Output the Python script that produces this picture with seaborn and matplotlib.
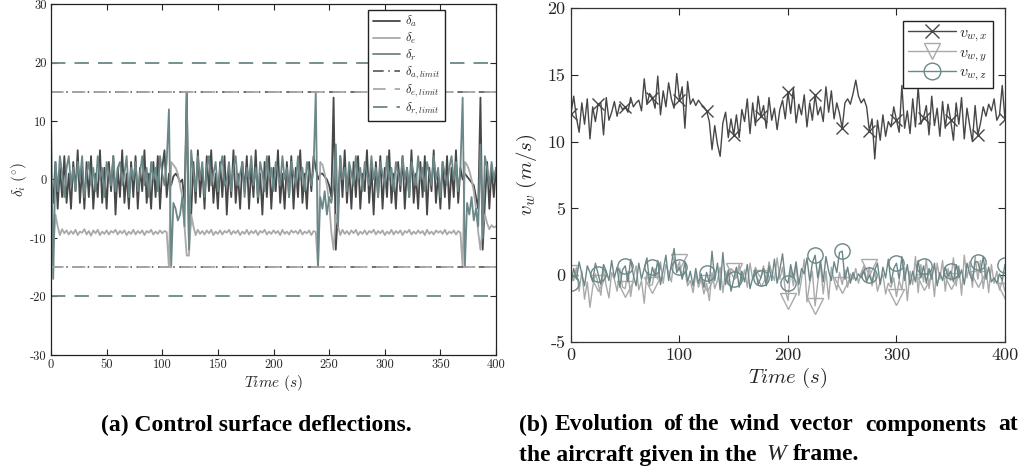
import numpy as np
import pandas as pd
import matplotlib
matplotlib.use("Agg")
import matplotlib.pyplot as plt
from matplotlib.lines import Line2D
import seaborn as sns

# ------------------------------------------------------------
# datos
# ------------------------------------------------------------
# (a) deflexiones, muestreo cada 2 s
t_defl = np.arange(0, 401, 2)

delta_a = [
    0, -4, 3, -5, 2, -3, 4, -4, 1, -5,
    3, -2, 5, -4, 2, -5, 3, -3, 4, -5,
    1, -3, 5, -4, 2, -5, 3, -2, 4, -6,
    2, -3, 5, -4, 1, -5, 3, -3, 4, -5,
    2, -2, 5, -4, 1, -5, 3, -3, 4, -5,
    2, 5, -3, 1, -1, 0.5, 1, 0.5, -0.5, 0,
    -4, 15, -11, -6, 3, -4, 5, -3, 2, -5,
    4, -2, 5, -4, 1, -5, 3, -3, 4, -6,
    2, -3, 5, -4, 1, -5, 3, -2, 4, -5,
    2, -3, 5, -4, 1, -6, 3, -3, 4, -5,
    2, -2, 5, -4, 1, -5, 3, -3, 4, -5,
    2, -3, 5, -4, 1, -5, 3, -2, 4, 2,
    0, 1, 1, 0.5, 0, -1, -3, 14, -12, -5,
    4, -3, 5, -4, 2, -5, 3, -3, 4, -5,
    1, -2, 5, -4, 2, -6, 3, -3, 4, -5,
    2, -3, 5, -4, 1, -5, 3, -2, 4, -5,
    2, -3, 5, -4, 1, -5, 3, -3, 4, -6,
    2, -2, 5, -4, 1, -5, 3, -3, 4, -5,
    2, -3, 5, -4, 2, 0, 1, 0.5, 0, -0.5,
    -1, -3, -5, 14, -12, -4, 3, -5, 2, -3,
    2,
]

delta_e = [
    -6, -12, -6, -8, -9.5, -8.5, -9.2, -8.7, -9.4, -8.8,
    -9.3, -8.6, -9.5, -8.9, -9.1, -8.5, -9.4, -8.8, -9.6, -8.7,
    -9.2, -8.6, -9.5, -8.9, -9.3, -8.7, -9.4, -8.8, -9.1, -8.6,
    -9.4, -8.8, -9.2, -8.7, -9.5, -8.9, -9.3, -8.6, -9.4, -8.8,
    -9.2, -8.7, -9.5, -8.8, -9.1, -8.6, -9.4, -8.9, -9.3, -8.7,
    -9.2, -8.8, -9.0, -15, 3, 2.5, 2, 1, -1, -3,
    -8, -13, -13, -6, -8, -9.5, -8.6, -9.3, -8.8, -9.4,
    -8.7, -9.2, -8.6, -9.5, -8.9, -9.3, -8.7, -9.4, -8.8, -9.1,
    -8.6, -9.4, -8.8, -9.2, -8.7, -9.5, -8.9, -9.3, -8.6, -9.4,
    -8.8, -9.2, -8.7, -9.5, -8.8, -9.1, -8.6, -9.4, -8.9, -9.3,
    -8.7, -9.2, -8.8, -9.5, -8.6, -9.3, -8.9, -9.4, -8.7, -9.1,
    -8.8, -9.3, -8.6, -9.4, -8.9, -9.2, -8.7, -9.5, -8.8, -9.0,
    -15, 3, 2.5, 1, -1, -4, -9, -12, -6, -8,
    -9.5, -8.6, -9.3, -8.8, -9.4, -8.7, -9.2, -8.6, -9.5, -8.9,
    -9.3, -8.7, -9.4, -8.8, -9.1, -8.6, -9.4, -8.8, -9.2, -8.7,
    -9.5, -8.9, -9.3, -8.6, -9.4, -8.8, -9.2, -8.7, -9.5, -8.8,
    -9.1, -8.6, -9.4, -8.9, -9.3, -8.7, -9.2, -8.8, -9.5, -8.6,
    -9.3, -8.9, -9.4, -8.7, -9.1, -8.8, -9.3, -8.6, -9.4, -8.9,
    -9.2, -8.7, -9.4, -8.8, -9.1, -15, 3, 2.5, 1.5, 0,
    -2, -5, -9, -12, -8, -6, -7.5, -8.5, -7.8, -8.2,
    -8,
]

delta_r = [
    11, -17, 3, -2, 4, 1, -3, 2, 4, -1,
    2, -2, 3, 0, 4, -3, 1, 3, -1, 2,
    -2, 4, 0, 2, -3, 3, 1, -1, 4, -2,
    2, 3, -1, 1, 4, -3, 2, 0, 3, -2,
    1, 4, -1, 2, -3, 3, 0, 2, -2, 4,
    1, -1, 3, 12, -15, -4, -5, -7, -6, -3,
    -8, 15, -12, 5, 1, -2, 4, 0, 3, -3,
    2, 4, -1, 1, 3, -2, 2, 4, -1, 0,
    3, -2, 2, 4, -1, 1, 3, -3, 2, 0,
    4, -1, 2, -3, 3, 1, -2, 4, 0, 2,
    -2, 3, 1, -1, 4, 0, 2, -3, 3, 1,
    -1, 4, 0, 2, -2, 3, 1, -1, 2, 15,
    -15, -3, -5, -2, -6, -3, -4, -1, 6, -8,
    4, 0, 2, -2, 3, 1, -1, 4, 0, 2,
    -2, 3, 1, -1, 4, 0, 2, -3, 3, 1,
    -1, 4, 0, 2, -2, 3, 1, -1, 4, 0,
    2, -3, 3, 1, -1, 4, 0, 2, -2, 3,
    1, -1, 4, 0, 2, -3, 3, 1, -1, 2,
    4, 0, 3, -2, 2, 14, -15, -4, -6, -3,
    -7, -5, -8, 6, -10, 4, 2, -1, 3, 0,
    2,
]

lim_a = 15
lim_e = 15
lim_r = 20

# (b) viento, muestreo cada 2.5 s
t_wind = np.arange(0, 401, 2.5)

vw_x = [
    12.1, 13.4, 11.8, 10.7, 12.9, 11.3, 13.2, 10.2, 12.6, 11.5,
    12.8, 12.9, 10.5, 13.3, 11.6, 12.2, 13.0, 11.9, 12.8, 12.4,
    12.6, 12.2, 13.3, 12.6, 12.9, 13.1, 12.3, 14.7, 12.8, 13.6,
    13.3, 12.5, 14.9, 12.0, 13.8, 12.6, 14.4, 13.2, 12.5, 15.1,
    13.1, 14.1, 11.0, 14.5, 12.8, 13.2, 12.7, 13.1, 12.8, 12.6,
    12.3, 11.5, 9.4, 11.2, 9.8, 8.9, 11.4, 12.2, 10.3, 11.7,
    10.5, 12.0, 10.3, 12.4, 11.5, 13.2, 10.6, 12.9, 11.2, 13.4,
    11.9, 12.7, 11.0, 13.3, 11.6, 12.5, 10.9, 12.4, 13.1, 11.7,
    13.7, 12.1, 14.0, 11.4, 12.8, 12.0, 13.5, 11.1, 12.9, 11.6,
    13.5, 12.0, 12.6, 11.5, 14.1, 12.2, 13.8, 11.7, 12.9, 12.1,
    11.0, 12.9, 13.2, 12.8, 13.6, 14.6, 13.4, 12.9, 13.2, 12.6,
    10.8, 11.7, 8.7, 11.6, 10.1, 12.0, 10.4, 11.5, 11.1, 12.6,
    11.6, 10.7, 14.2, 11.0, 12.3, 10.6, 13.2, 11.1, 14.1, 11.3,
    11.8, 12.7, 10.5, 13.4, 11.2, 12.5, 10.4, 13.0, 11.0, 12.8,
    11.6, 10.1, 12.9, 11.3, 13.3, 10.2, 12.5, 11.2, 10.0, 12.7,
    10.5, 11.4, 12.6, 11.9, 12.8, 12.3, 13.2, 11.6, 12.0, 14.2,
    11.7,
]

vw_y = [
    0.2, -0.4, 0.6, -1.2, 0.3, -1.8, -0.5, -2.4, -0.9, 0.1,
    -0.6, -1.5, 0.4, -0.8, -1.7, 0.2, -0.3, -1.2, 0.5, -0.9,
    -1.0, 0.3, -1.6, -0.2, 0.7, -1.1, -0.4, -2.1, 0.2, -0.8,
    -0.7, 0.5, -0.3, 1.0, -0.6, 0.8, 0.2, -0.5, 1.2, 0.4,
    1.0, -0.2, 0.3, -0.8, -0.4, -1.3, 0.1, -0.9, -0.3, -1.4,
    -0.6, -1.9, 0.2, -1.0, -0.4, 0.6, -1.3, 0.3, -0.7, 0.5,
    0.3, -0.2, 0.8, -0.5, 0.4, -0.9, 0.9, -0.3, 0.6, 0.1,
    -0.2, 0.7, -0.6, 1.0, 0.2, -0.4, 1.3, -0.3, 0.6, -1.1,
    -1.9, 0.4, -0.8, 0.9, -1.5, -0.3, 1.2, -2.0, -0.6, 0.3,
    -2.3, -0.5, 0.8, -1.4, 0.3, -1.8, 0.6, -0.4, -1.1, 0.2,
    -0.7, 0.4, -0.9, 0.1, -0.3, 0.5, -0.6, 0.2, 0.7, -0.4,
    0.6, -0.8, 0.3, -1.2, -0.5, 0.1, -1.4, -0.6, -0.9, -0.2,
    -1.6, -0.4, -1.1, 0.6, -1.9, 0.3, -0.7, 1.4, -1.3, 0.8,
    -0.5, 1.2, -1.0, 0.4, -1.6, 0.9, -0.3, 1.1, -1.2, 0.5,
    -0.4, 1.3, -0.8, 0.7, -1.5, 1.5, -0.2, 1.0, -0.9, 1.4,
    -0.3, 1.1, -1.0, 0.6, -1.3, 0.8, -0.6, 0.3, -1.1, -0.4,
    -1.2,
]

vw_z = [
    -0.6, 0.5, -0.3, 1.0, 0.1, -0.8, 0.7, 0.2, -0.5, 0.9,
    0.1, -0.7, 0.8, 0.3, -0.4, 1.1, -0.2, 0.6, -0.9, 0.4,
    0.7, -0.5, 1.2, 0.0, -0.8, 0.9, -0.3, 0.5, 1.3, -0.6,
    0.6, -0.1, 1.1, -0.7, 0.4, 1.5, -0.4, 0.8, 2.0, 0.2,
    0.6, -0.3, 1.0, -0.5, 0.3, -0.8, 0.5, -0.6, 0.1, -0.9,
    0.2, -0.6, 1.8, -0.4, 0.9, -1.1, 1.7, -0.7, 0.4, -1.2,
    -0.3, 0.6, -0.9, 0.3, -0.5, 0.8, -1.0, -0.2, 0.4, -0.7,
    -0.2, 0.5, -0.8, 0.7, -0.4, 1.2, -0.6, 0.4, 1.6, -0.3,
    -0.6, 0.8, -0.2, 1.0, -0.7, 0.5, 0.1, 1.3, -0.4, 0.9,
    1.5, -0.2, 1.1, -0.5, 1.4, 0.3, -0.4, 1.0, 0.2, 1.7,
    1.8, -0.3, 0.6, -0.6, 0.2, -0.4, 0.1, -0.2, 0.3, -0.5,
    0.0, -0.5, 0.4, 0.9, -0.7, 0.6, -0.2, 1.2, -0.6, 0.5,
    0.9, -0.3, 1.4, -0.4, 0.8, -0.7, 0.3, -0.5, 1.1, -0.2,
    0.7, -0.6, 0.5, -0.3, 0.9, -0.8, 0.2, -0.4, 0.6, -0.1,
    0.3, -0.5, 0.8, -0.2, 0.4, -0.7, 0.9, 0.1, -0.4, 1.0,
    1.0, 0.2, 1.4, -0.3, 0.6, -0.5, -0.2, -0.6, 0.1, -0.4,
    0.8,
]

# ------------------------------------------------------------
# estilo
# ------------------------------------------------------------
sns.set_style("ticks")
plt.rcParams["font.family"] = "serif"
plt.rcParams["font.serif"] = ["cmr10", "DejaVu Serif"]
plt.rcParams["mathtext.fontset"] = "cm"
plt.rcParams["axes.unicode_minus"] = False
plt.rcParams["axes.formatter.use_mathtext"] = False
plt.rcParams["xtick.direction"] = "in"
plt.rcParams["ytick.direction"] = "in"
plt.rcParams["xtick.top"] = True
plt.rcParams["ytick.right"] = True

c_dark = "#474747"
c_light = "#a9a9a9"
c_teal = "#6c8787"

fig = plt.figure(figsize=(10.24, 4.71), dpi=100)
ax1 = fig.add_axes([0.0498, 0.2463, 0.4346, 0.7452])
ax2 = fig.add_axes([0.5576, 0.2739, 0.4238, 0.7091])

# ------------------------------------------------------------
# (a) Control surface deflections
# ------------------------------------------------------------
df_a = pd.DataFrame({"t": t_defl, "da": delta_a, "de": delta_e, "dr": delta_r})
sns.lineplot(data=df_a, x="t", y="da", ax=ax1, color=c_dark, lw=1.3, label=r"$\delta_a$", estimator=None)
sns.lineplot(data=df_a, x="t", y="de", ax=ax1, color=c_light, lw=1.3, label=r"$\delta_e$", estimator=None)
sns.lineplot(data=df_a, x="t", y="dr", ax=ax1, color=c_teal, lw=1.3, label=r"$\delta_r$", estimator=None)

for s in (1, -1):
    ax1.axhline(s * lim_a, color=c_dark, lw=1.1, ls=(0, (7, 3, 1, 3)),
                label=r"$\delta_{a,limit}$" if s == 1 else None)
    ax1.axhline(s * lim_e, color=c_light, lw=1.3, ls=(0, (7, 5)),
                label=r"$\delta_{e,limit}$" if s == 1 else None)
    ax1.axhline(s * lim_r, color=c_teal, lw=1.3, ls=(0, (8, 5)),
                label=r"$\delta_{r,limit}$" if s == 1 else None)

ax1.set_xlim(0, 400)
ax1.set_ylim(-30, 30)
ax1.set_xticks(np.arange(0, 401, 50))
ax1.set_yticks(np.arange(-30, 31, 10))
ax1.tick_params(labelsize=9, length=4, width=0.8, pad=3)
ax1.set_xlabel(r"$Time\ (s)$", fontsize=11, labelpad=1)
ax1.set_ylabel(r"$\delta_i\ (^{\circ})$", fontsize=11, labelpad=1)
for sp in ax1.spines.values():
    sp.set_linewidth(0.9)
    sp.set_color("#222222")
ax1.legend(loc="upper right", bbox_to_anchor=(0.885, 0.983), borderaxespad=0, fontsize=9,
           handlelength=2.2, labelspacing=0.12, borderpad=0.35, handletextpad=0.4,
           fancybox=False, framealpha=1, edgecolor="#222222")

# ------------------------------------------------------------
# (b) Wind vector components
# ------------------------------------------------------------
df_b = pd.DataFrame({"t": t_wind, "x": vw_x, "y": vw_y, "z": vw_z})
sns.lineplot(data=df_b, x="t", y="x", ax=ax2, color=c_dark, lw=1.0, marker="x",
             markersize=8, markeredgecolor=c_dark, markeredgewidth=1.0, markevery=10,
             estimator=None)
sns.lineplot(data=df_b, x="t", y="y", ax=ax2, color=c_light, lw=1.0, marker="v",
             markersize=11, markerfacecolor="none", markeredgecolor=c_light, markeredgewidth=1.0,
             markevery=10, estimator=None)
sns.lineplot(data=df_b, x="t", y="z", ax=ax2, color=c_teal, lw=1.0, marker="o",
             markersize=11, markerfacecolor="none", markeredgecolor=c_teal, markeredgewidth=1.0,
             markevery=10, estimator=None)

ax2.set_xlim(0, 400)
ax2.set_ylim(-5, 20)
ax2.set_xticks(np.arange(0, 401, 100))
ax2.set_yticks(np.arange(-5, 21, 5))
ax2.tick_params(labelsize=13, length=5, width=0.8, pad=4)
ax2.set_xlabel(r"$Time\ (s)$", fontsize=15, labelpad=2)
ax2.set_ylabel(r"$v_w\ (m/s)$", fontsize=15, labelpad=6)
for sp in ax2.spines.values():
    sp.set_linewidth(0.9)
    sp.set_color("#333333")

handles = [
    Line2D([], [], color=c_dark, lw=1.0, marker="x", markersize=10, markeredgewidth=1.0),
    Line2D([], [], color=c_light, lw=1.0, marker="v", markersize=12, markerfacecolor="none",
           markeredgecolor=c_light),
    Line2D([], [], color=c_teal, lw=1.0, marker="o", markersize=12, markerfacecolor="none",
           markeredgecolor=c_teal),
]
ax2.legend(handles, [r"$v_{w,x}$", r"$v_{w,y}$", r"$v_{w,z}$"],
           loc="upper right", bbox_to_anchor=(0.972, 0.961), borderaxespad=0, fontsize=11.5,
           handlelength=3.0, labelspacing=0.1, borderpad=0.3, handletextpad=0.2,
           fancybox=False, framealpha=1, edgecolor="#222222")

# ------------------------------------------------------------
# leyendas de figura
# ------------------------------------------------------------
fs_cap = 17
cap = dict(family="Liberation Serif", fontweight="bold", fontsize=fs_cap, color="black")
fig.text(256 / 1024, 1 - 425 / 471, "(a) Control surface deflections.", ha="center", va="center", **cap)

palabras = ["(b)", "Evolution", "of", "the", "wind", "vector", "components", "at"]
x_pal = [519, 555, 663, 688, 730, 790, 865, 998]
for w, xp in zip(palabras, x_pal):
    fig.text(xp / 1024, 1 - 425 / 471, w, ha="left", va="center", **cap)
fig.text(519 / 1024, 1 - 455 / 471, "the aircraft given in the", ha="left", va="center", **cap)
fig.text(766 / 1024, 1 - 455 / 471, "W", ha="left", va="center", style="italic",
         family="Liberation Serif", fontweight="normal", fontsize=fs_cap)
fig.text(793 / 1024, 1 - 455 / 471, "frame.", ha="left", va="center", **cap)

fig.savefig("out.png", dpi=100)
plt.close(fig)
